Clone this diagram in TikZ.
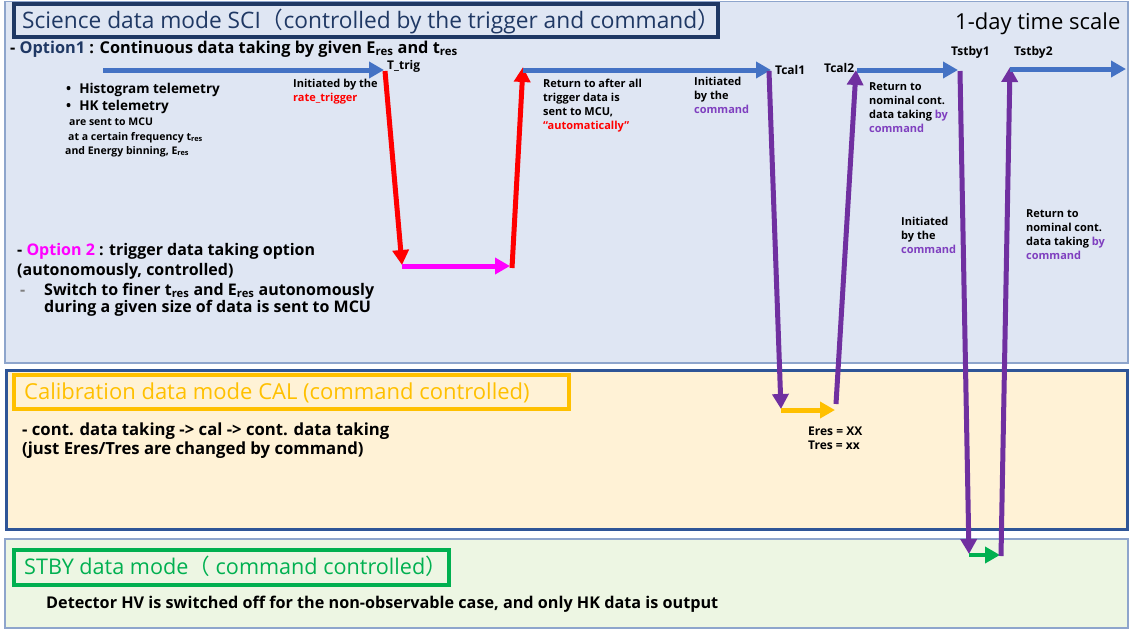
\documentclass[tikz,border=0pt]{standalone}
\usepackage{fontspec}
\setmainfont{Open Sans}
\newfontfamily\cjkfont{Noto Sans CJK JP}
\usetikzlibrary{arrows.meta}
\definecolor{navy}{HTML}{1F3864}
\definecolor{sciblue}{HTML}{4472C4}
\definecolor{scibg}{HTML}{DFE6F3}
\definecolor{calbg}{HTML}{FFF2D6}
\definecolor{stbybg}{HTML}{EDF6E3}
\definecolor{panelline}{HTML}{8EA5CC}
\definecolor{calline}{HTML}{2F5597}
\definecolor{amber}{HTML}{FFC000}
\definecolor{grn}{HTML}{00B050}
\definecolor{purp}{HTML}{7030A0}
\definecolor{ptext}{HTML}{7F3FBF}
\definecolor{mag}{HTML}{FF00FF}
\definecolor{dashgray}{HTML}{7F7F7F}
\begin{document}
\begin{tikzpicture}[x=1pt,y=-1pt,
  flow/.style={line width=5pt,-{Triangle[length=15pt,width=16pt]}},
  ttl/.style={anchor=base west,inner sep=0pt,font=\fontsize{22.7}{26}\selectfont},
  big/.style={anchor=base west,inner sep=0pt,font=\bfseries\fontsize{16}{19}\selectfont},
  mid/.style={anchor=base west,inner sep=0pt,font=\bfseries\fontsize{13.5}{17}\selectfont},
  body/.style={anchor=base west,inner sep=0pt,font=\bfseries\fontsize{16.2}{19}\selectfont},
  sml/.style={anchor=base west,inner sep=0pt,font=\bfseries\fontsize{10.5}{13}\selectfont},
  tlab/.style={anchor=base west,inner sep=0pt,font=\bfseries\fontsize{12}{14}\selectfont},
  lab/.style={anchor=north west,inner sep=0pt,align=left,font=\bfseries\fontsize{11}{14}\selectfont}]
\useasboundingbox (0,0) rectangle (1130,630);
\fill[white] (0,0) rectangle (1130,630);
% panels
\filldraw[fill=scibg,draw=panelline,line width=1.2pt] (5,1.5) rectangle (1128,363);
\filldraw[fill=calbg,draw=calline,line width=3pt] (6.5,370.5) rectangle (1127.5,529);
\filldraw[fill=stbybg,draw=panelline,line width=1.2pt] (5,539) rectangle (1128,628);
% title boxes
\draw[navy,line width=3.5pt] (14,4) rectangle (718,37);
\draw[amber,line width=3.5pt] (14,375) rectangle (569,409);
\draw[grn,line width=3.5pt] (14,550) rectangle (449,585);
% titles
\node[ttl,text=navy] (scititle) at (22,28) {Science data mode SCI{\cjkfont （}controlled by the trigger and command{\cjkfont ）}};
\node[ttl,text=black,font=\fontsize{22}{26}\selectfont] (scale) at (955,29) {1-day time scale};
\node[ttl,text=amber,font=\fontsize{22}{25}\selectfont] (caltitle) at (24,399) {Calibration data mode CAL (command controlled)};
\node[ttl,text=grn,font=\fontsize{21.6}{25}\selectfont] (stbytitle) at (24,574) {STBY data mode{\cjkfont （} command controlled{\cjkfont ）}};
% SCI texts
\node[big,font=\bfseries\fontsize{16.3}{19}\selectfont] (opt1) at (10,53) {- \textcolor{navy}{Option1} : Continuous data taking by given E\textsubscript{res} and t\textsubscript{res}};
\node[mid] (hist) at (66,93) {•\hspace{8pt}Histogram telemetry};
\node[mid] (hk) at (66,110) {•\hspace{8pt}HK telemetry};
\node[sml] (sent1) at (69,125) {are sent to MCU};
\node[sml] (sent2) at (68,140) {at a certain frequency t\textsubscript{res}};
\node[sml] (sent3) at (65,154) {and Energy binning, E\textsubscript{res}};
\node[big] (opt2) at (17,255) {- \textcolor{mag}{Option 2} : trigger data taking option};
\node[big] (opt2b) at (17,275) {(autonomously, controlled)};
\node[big,text=dashgray] (opt2dash) at (20,295) {-};
\node[big] (opt2c) at (44,295) {Switch to finer t\textsubscript{res} and E\textsubscript{res} autonomously};
\node[big] (opt2d) at (44,312) {during a given size of data is sent to MCU};
% time labels
\node[tlab] (ttrig) at (387,69) {T\_trig};
\node[tlab] (tcal1) at (775,74) {Tcal1};
\node[tlab] (tcal2) at (824,72) {Tcal2};
\node[tlab] (tstby1) at (951,55) {Tstby1};
\node[tlab] (tstby2) at (1014,55) {Tstby2};
% annotation labels
\node[lab] (l1) at (293,79) {Initiated by the\\\textcolor{red}{rate\_trigger}};
\node[lab] (l2) at (543,79) {Return to after all\\trigger data is\\sent to MCU,\\\textcolor{red}{“automatically”}};
\node[lab] (l3) at (694,77) {Initiated\\by the\\\textcolor{ptext}{command}};
\node[lab] (l4) at (869,82) {Return to\\nominal cont.\\data taking \textcolor{ptext}{by}\\\textcolor{ptext}{command}};
\node[lab] (l5) at (901,217) {Initiated\\by the\\\textcolor{ptext}{command}};
\node[lab] (l6) at (1026,209) {Return to\\nominal cont.\\data taking \textcolor{ptext}{by}\\\textcolor{ptext}{command}};
% CAL texts
\node[body,font=\bfseries\fontsize{16.7}{19}\selectfont] (cal1) at (22,435) {- cont. data taking -> cal -> cont. data taking};
\node[body,font=\bfseries\fontsize{16.7}{19}\selectfont] (cal2) at (22,454) {(just Eres/Tres are changed by command)};
\node[tlab] (eres) at (808,435) {Eres = XX};
\node[tlab] (tres) at (808,449) {Tres = xx};
% STBY text
\node[body] (stbytxt) at (46,608) {Detector HV is switched off for the non-observable case, and only HK data is output};
% timeline points
\coordinate (s0) at (103,70);
\coordinate (s1) at (384,70);
\coordinate (r1a) at (385,71);
\coordinate (r1b) at (402,265);
\coordinate (m1a) at (402,266);
\coordinate (m1b) at (510,266);
\coordinate (r2a) at (512,268);
\coordinate (r2b) at (523,67);
\coordinate (b2a) at (523,70);
\coordinate (b2b) at (771,70);
\coordinate (p1a) at (769,71);
\coordinate (p1b) at (781,409);
\coordinate (y1a) at (781,410);
\coordinate (y1b) at (835,410);
\coordinate (p2a) at (836,404);
\coordinate (p2b) at (856,70);
\coordinate (b3a) at (857,70);
\coordinate (b3b) at (958,70);
\coordinate (p3a) at (960,71);
\coordinate (p3b) at (969,554);
\coordinate (g1a) at (969,555);
\coordinate (g1b) at (1000,555);
\coordinate (p4a) at (1001,556);
\coordinate (p4b) at (1010,67);
\coordinate (b4a) at (1010,69);
\coordinate (b4b) at (1126,69);
% arrows
\draw[flow,sciblue] (s0) -- (s1);
\draw[flow,red] (r1a) -- (r1b);
\draw[flow,mag] (m1a) -- (m1b);
\draw[flow,red] (r2a) -- (r2b);
\draw[flow,sciblue] (b2a) -- (b2b);
\draw[flow,purp] (p1a) -- (p1b);
\draw[flow,amber] (y1a) -- (y1b);
\draw[flow,purp] (p2a) -- (p2b);
\draw[flow,sciblue] (b3a) -- (b3b);
\draw[flow,purp] (p3a) -- (p3b);
\draw[flow,grn,line width=4.5pt] (g1a) -- (g1b);
\draw[flow,purp] (p4a) -- (p4b);
\draw[flow,sciblue] (b4a) -- (b4b);
\end{tikzpicture}
\end{document}
